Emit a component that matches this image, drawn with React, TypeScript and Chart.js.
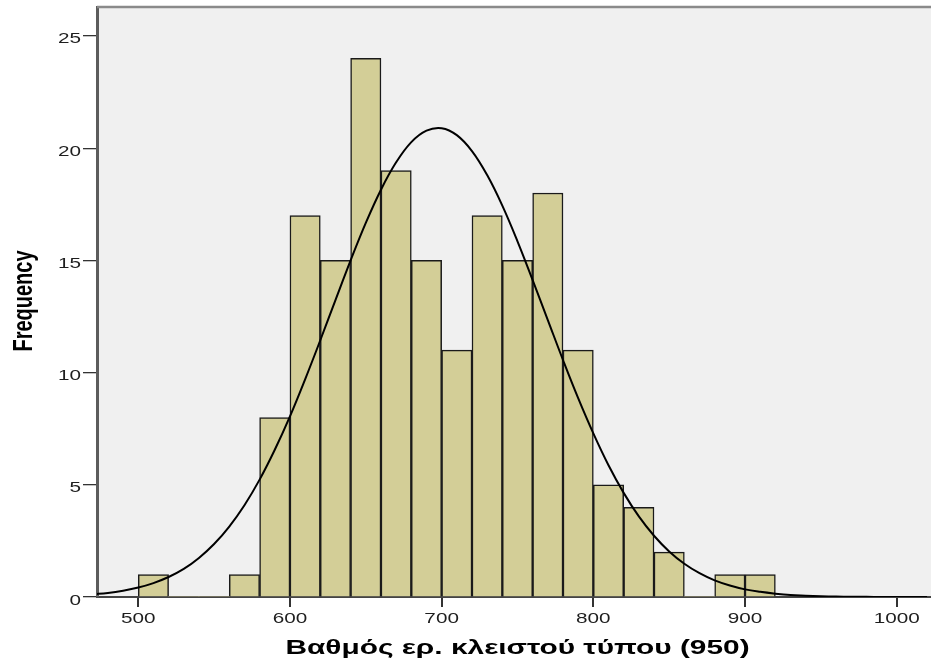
import { useEffect, useRef } from 'react';
import { Chart, registerables } from 'chart.js';

Chart.register(...registerables);

// Histogram bins (centres of 20-wide bins) and their frequencies
const binCenters = [510, 530, 550, 570, 590, 610, 630, 650, 670, 690, 710, 730, 750, 770, 790, 810, 830, 850, 870, 890, 910];
const counts = [1, 0, 0, 1, 8, 17, 15, 24, 19, 15, 11, 17, 15, 18, 11, 5, 4, 2, 0, 1, 1];

// Normal curve overlay
const curveX = [470, 480, 490, 500, 510, 520, 530, 540, 550, 560, 570, 580, 590, 600, 610, 620, 630, 640, 650, 660, 670, 680, 690, 700, 710, 720, 730, 740, 750, 760, 770, 780, 790, 800, 810, 820, 830, 840, 850, 860, 870, 880, 890, 900, 910, 920, 930, 940, 950, 960, 970, 980, 990, 1000, 1010, 1020];
const curveY = [0.12, 0.18, 0.28, 0.42, 0.62, 0.89, 1.25, 1.74, 2.36, 3.14, 4.09, 5.23, 6.56, 8.05, 9.7, 11.44, 13.23, 15.0, 16.67, 18.15, 19.37, 20.27, 20.78, 20.89, 20.58, 19.87, 18.8, 17.44, 15.85, 14.12, 12.34, 10.56, 8.86, 7.29, 5.87, 4.64, 3.59, 2.73, 2.03, 1.48, 1.06, 0.74, 0.51, 0.34, 0.23, 0.15, 0.09, 0.06, 0.035, 0.02, 0.012, 0.007, 0.004, 0.002, 0.001, 0.0005];

const xTicks = [500, 600, 700, 800, 900, 1000];
const yTicks = [0, 5, 10, 15, 20, 25];

const xTitle = 'Βαθμός ερ. κλειστού τύπου (950)';
const yTitle = 'Frequency';

const SX = 1.38;
const SX_TITLE = 1.53;
const FONT = '"Liberation Sans", Arial, sans-serif';

const bgPlugin = {
  id: 'bgPlugin',
  beforeDraw(chart: any) {
    const { ctx, chartArea } = chart;
    ctx.save();
    ctx.fillStyle = '#f0f0f0';
    ctx.fillRect(chartArea.left, chartArea.top, chartArea.right - chartArea.left, chartArea.bottom - chartArea.top);
    ctx.restore();
  },
  afterDraw(chart: any) {
    const { ctx, chartArea } = chart;
    const xs = chart.scales.x;
    const ys = chart.scales.y;
    ctx.save();
    // top frame line
    ctx.strokeStyle = '#8a8a8a';
    ctx.lineWidth = 2.5;
    ctx.beginPath();
    ctx.moveTo(chartArea.left, chartArea.top);
    ctx.lineTo(chartArea.right, chartArea.top);
    ctx.stroke();

    ctx.fillStyle = '#1e1e1e';
    ctx.font = '15px ' + FONT;
    ctx.textBaseline = 'alphabetic';
    ctx.textAlign = 'center';
    xs.ticks.forEach((t: any) => {
      const px = xs.getPixelForValue(t.value);
      ctx.save();
      ctx.translate(px, 623);
      ctx.scale(SX, 1);
      ctx.fillText(String(t.value), 0, 0);
      ctx.restore();
    });
    ctx.textAlign = 'right';
    ys.ticks.forEach((t: any) => {
      const py = ys.getPixelForValue(t.value);
      ctx.save();
      ctx.translate(81, py + 7.5);
      ctx.scale(SX, 1);
      ctx.fillText(String(t.value), 0, 0);
      ctx.restore();
    });

    ctx.fillStyle = '#000';
    ctx.font = 'bold 20px ' + FONT;
    ctx.textAlign = 'center';
    ctx.save();
    ctx.translate(32, 301);
    ctx.scale(SX, 1);
    ctx.rotate(-Math.PI / 2);
    ctx.fillText(yTitle, 0, 0);
    ctx.restore();

    ctx.font = 'bold 19.5px ' + FONT;
    ctx.save();
    ctx.translate(517.5, 654);
    ctx.scale(SX_TITLE, 1);
    ctx.fillText(xTitle, 0, 0);
    ctx.restore();
    ctx.restore();
  },
};

export default function App() {
  const canvasRef = useRef<HTMLCanvasElement | null>(null);

  useEffect(() => {
    document.body.style.margin = '0';
    const canvas = canvasRef.current;
    if (!canvas) return;
    const chart = new Chart(canvas, {
      type: 'bar',
      data: {
        datasets: [
          {
            type: 'line',
            data: curveX.map((x, i) => ({ x, y: curveY[i] })),
            borderColor: '#000',
            borderWidth: 2,
            pointRadius: 0,
            tension: 0.4,
            fill: false,
            order: 0,
          } as any,
          {
            type: 'bar',
            data: binCenters.map((x, i) => ({ x, y: counts[i] })),
            backgroundColor: '#d3ce97',
            borderColor: '#1a1a1a',
            borderWidth: (c: any) => (c.raw && c.raw.y === 0 ? 0 : 1.5),
            borderSkipped: 'bottom',
            barPercentage: 1,
            categoryPercentage: 1,
            order: 1,
          } as any,
        ],
      },
      options: {
        animation: false,
        responsive: true,
        maintainAspectRatio: false,
        layout: { padding: { top: 7, left: 0, right: 0, bottom: 0 } },
        plugins: { legend: { display: false }, tooltip: { enabled: false } },
        scales: {
          x: {
            type: 'linear',
            min: 472.8,
            max: 1022.6,
            offset: false,
            afterBuildTicks: (s: any) => {
              s.ticks = xTicks.map((v) => ({ value: v }));
            },
            afterFit: (s: any) => {
              s.height = 64;
            },
            ticks: { display: false },
            grid: { offset: false, drawOnChartArea: false, drawTicks: true, tickLength: 10, color: '#333', lineWidth: 2 },
            border: { display: true, color: '#444', width: 2 },
          },
          y: {
            type: 'linear',
            min: 0,
            max: 26.29,
            afterBuildTicks: (s: any) => {
              s.ticks = yTicks.map((v) => ({ value: v }));
            },
            afterFit: (s: any) => {
              s.width = 97;
            },
            ticks: { display: false },
            grid: { drawOnChartArea: false, drawTicks: true, tickLength: 14, color: '#333', lineWidth: 1.3 },
            border: { display: true, color: '#5c5c5c', width: 3 },
          },
        },
      } as any,
      plugins: [bgPlugin],
    });
    return () => chart.destroy();
  }, []);

  return (
    <div style={{ width: 931, height: 661, position: 'relative' }}>
      <canvas ref={canvasRef} style={{ display: 'block' }} />
    </div>
  );
}
